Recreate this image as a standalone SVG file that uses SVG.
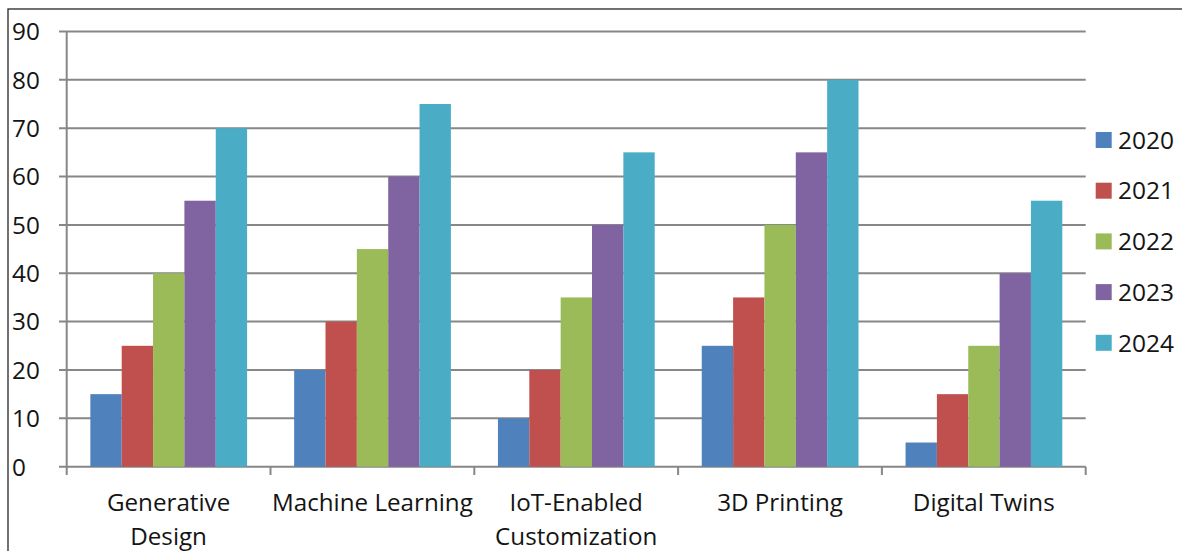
<svg xmlns="http://www.w3.org/2000/svg" width="1182" height="551" viewBox="0 0 1182 551">
  <style>
    text { font-family: "Open Sans", "Noto Sans", "Liberation Sans", sans-serif; fill: #141414; }
    .ylab { font-size: 24.3px; }
    .xlab { font-size: 24.2px; text-anchor: middle; }
    .leg { font-size: 24.5px; }
    .grid { stroke: #878787; stroke-width: 2; fill: none; }
    .s2020 { fill: #4F81BD; }
    .s2021 { fill: #C0504D; }
    .s2022 { fill: #9BBB59; }
    .s2023 { fill: #8064A2; }
    .s2024 { fill: #4BACC6; }
  </style>
  <rect x="0" y="0" width="1182" height="551" fill="#ffffff"/>
  <!-- chart frame -->
  <rect x="8" y="9" width="1300" height="700" fill="none" stroke="#262626" stroke-width="1.3"/>

  <!-- gridlines and axes -->
  <g id="axes">
    <g class="grid">
      <line x1="59" y1="31.5" x2="1085.7" y2="31.5"/>
      <line x1="59" y1="79.8" x2="1085.7" y2="79.8"/>
      <line x1="59" y1="128.2" x2="1085.7" y2="128.2"/>
      <line x1="59" y1="176.5" x2="1085.7" y2="176.5"/>
      <line x1="59" y1="224.9" x2="1085.7" y2="224.9"/>
      <line x1="59" y1="273.3" x2="1085.7" y2="273.3"/>
      <line x1="59" y1="321.6" x2="1085.7" y2="321.6"/>
      <line x1="59" y1="370" x2="1085.7" y2="370"/>
      <line x1="59" y1="418.3" x2="1085.7" y2="418.3"/>
      <line x1="59" y1="466.7" x2="1085.7" y2="466.7"/>
      <line x1="66.7" y1="31.5" x2="66.7" y2="475"/>
      <line x1="270.5" y1="466.7" x2="270.5" y2="475"/>
      <line x1="474.3" y1="466.7" x2="474.3" y2="475"/>
      <line x1="678.1" y1="466.7" x2="678.1" y2="475"/>
      <line x1="881.9" y1="466.7" x2="881.9" y2="475"/>
      <line x1="1085.7" y1="466.7" x2="1085.7" y2="475"/>
    </g>
    <g id="y-labels">
      <text class="ylab" x="12" y="40.3">90</text>
      <text class="ylab" x="12" y="88.6">80</text>
      <text class="ylab" x="12" y="137">70</text>
      <text class="ylab" x="12" y="185.3">60</text>
      <text class="ylab" x="12" y="233.7">50</text>
      <text class="ylab" x="12" y="282.1">40</text>
      <text class="ylab" x="12" y="330.4">30</text>
      <text class="ylab" x="12" y="378.8">20</text>
      <text class="ylab" x="12" y="427.1">10</text>
      <text class="ylab" x="12" y="475.5">0</text>
    </g>
  </g>

  <!-- bars, one group per category -->
  <g id="cat-generative-design">
    <rect class="s2020" x="90.35" y="394.16" width="31.35" height="72.54"/>
    <rect class="s2021" x="121.7" y="345.8" width="31.35" height="120.9"/>
    <rect class="s2022" x="153.05" y="273.26" width="31.35" height="193.44"/>
    <rect class="s2023" x="184.4" y="200.72" width="31.35" height="265.98"/>
    <rect class="s2024" x="215.75" y="128.18" width="31.35" height="338.52"/>
    <text class="xlab" x="168.6" y="511">Generative</text>
    <text class="xlab" x="168.6" y="545">Design</text>
  </g>
  <g id="cat-machine-learning">
    <rect class="s2020" x="294.15" y="369.98" width="31.35" height="96.72"/>
    <rect class="s2021" x="325.5" y="321.62" width="31.35" height="145.08"/>
    <rect class="s2022" x="356.85" y="249.08" width="31.35" height="217.62"/>
    <rect class="s2023" x="388.2" y="176.54" width="31.35" height="290.16"/>
    <rect class="s2024" x="419.55" y="104" width="31.35" height="362.7"/>
    <text class="xlab" x="372.4" y="511">Machine Learning</text>
  </g>
  <g id="cat-iot-customization">
    <rect class="s2020" x="497.95" y="418.34" width="31.35" height="48.36"/>
    <rect class="s2021" x="529.3" y="369.98" width="31.35" height="96.72"/>
    <rect class="s2022" x="560.65" y="297.44" width="31.35" height="169.26"/>
    <rect class="s2023" x="592" y="224.9" width="31.35" height="241.8"/>
    <rect class="s2024" x="623.35" y="152.36" width="31.35" height="314.34"/>
    <text class="xlab" x="576.2" y="511">IoT-Enabled</text>
    <text class="xlab" x="576.2" y="545">Customization</text>
  </g>
  <g id="cat-3d-printing">
    <rect class="s2020" x="701.75" y="345.8" width="31.35" height="120.9"/>
    <rect class="s2021" x="733.1" y="297.44" width="31.35" height="169.26"/>
    <rect class="s2022" x="764.45" y="224.9" width="31.35" height="241.8"/>
    <rect class="s2023" x="795.8" y="152.36" width="31.35" height="314.34"/>
    <rect class="s2024" x="827.15" y="79.82" width="31.35" height="386.88"/>
    <text class="xlab" x="780" y="511">3D Printing</text>
  </g>
  <g id="cat-digital-twins">
    <rect class="s2020" x="905.55" y="442.52" width="31.35" height="24.18"/>
    <rect class="s2021" x="936.9" y="394.16" width="31.35" height="72.54"/>
    <rect class="s2022" x="968.25" y="345.8" width="31.35" height="120.9"/>
    <rect class="s2023" x="999.6" y="273.26" width="31.35" height="193.44"/>
    <rect class="s2024" x="1030.95" y="200.72" width="31.35" height="265.98"/>
    <text class="xlab" x="983.8" y="511">Digital Twins</text>
  </g>

  <!-- legend -->
  <g id="legend">
    <rect class="s2020" x="1095.7" y="132" width="16" height="16"/>
    <text class="leg" x="1118" y="148.7">2020</text>
    <rect class="s2021" x="1095.7" y="182.7" width="16" height="16"/>
    <text class="leg" x="1118" y="199.4">2021</text>
    <rect class="s2022" x="1095.7" y="233.4" width="16" height="16"/>
    <text class="leg" x="1118" y="250.1">2022</text>
    <rect class="s2023" x="1095.7" y="284.1" width="16" height="16"/>
    <text class="leg" x="1118" y="300.8">2023</text>
    <rect class="s2024" x="1095.7" y="334.8" width="16" height="16"/>
    <text class="leg" x="1118" y="351.5">2024</text>
  </g>
</svg>
